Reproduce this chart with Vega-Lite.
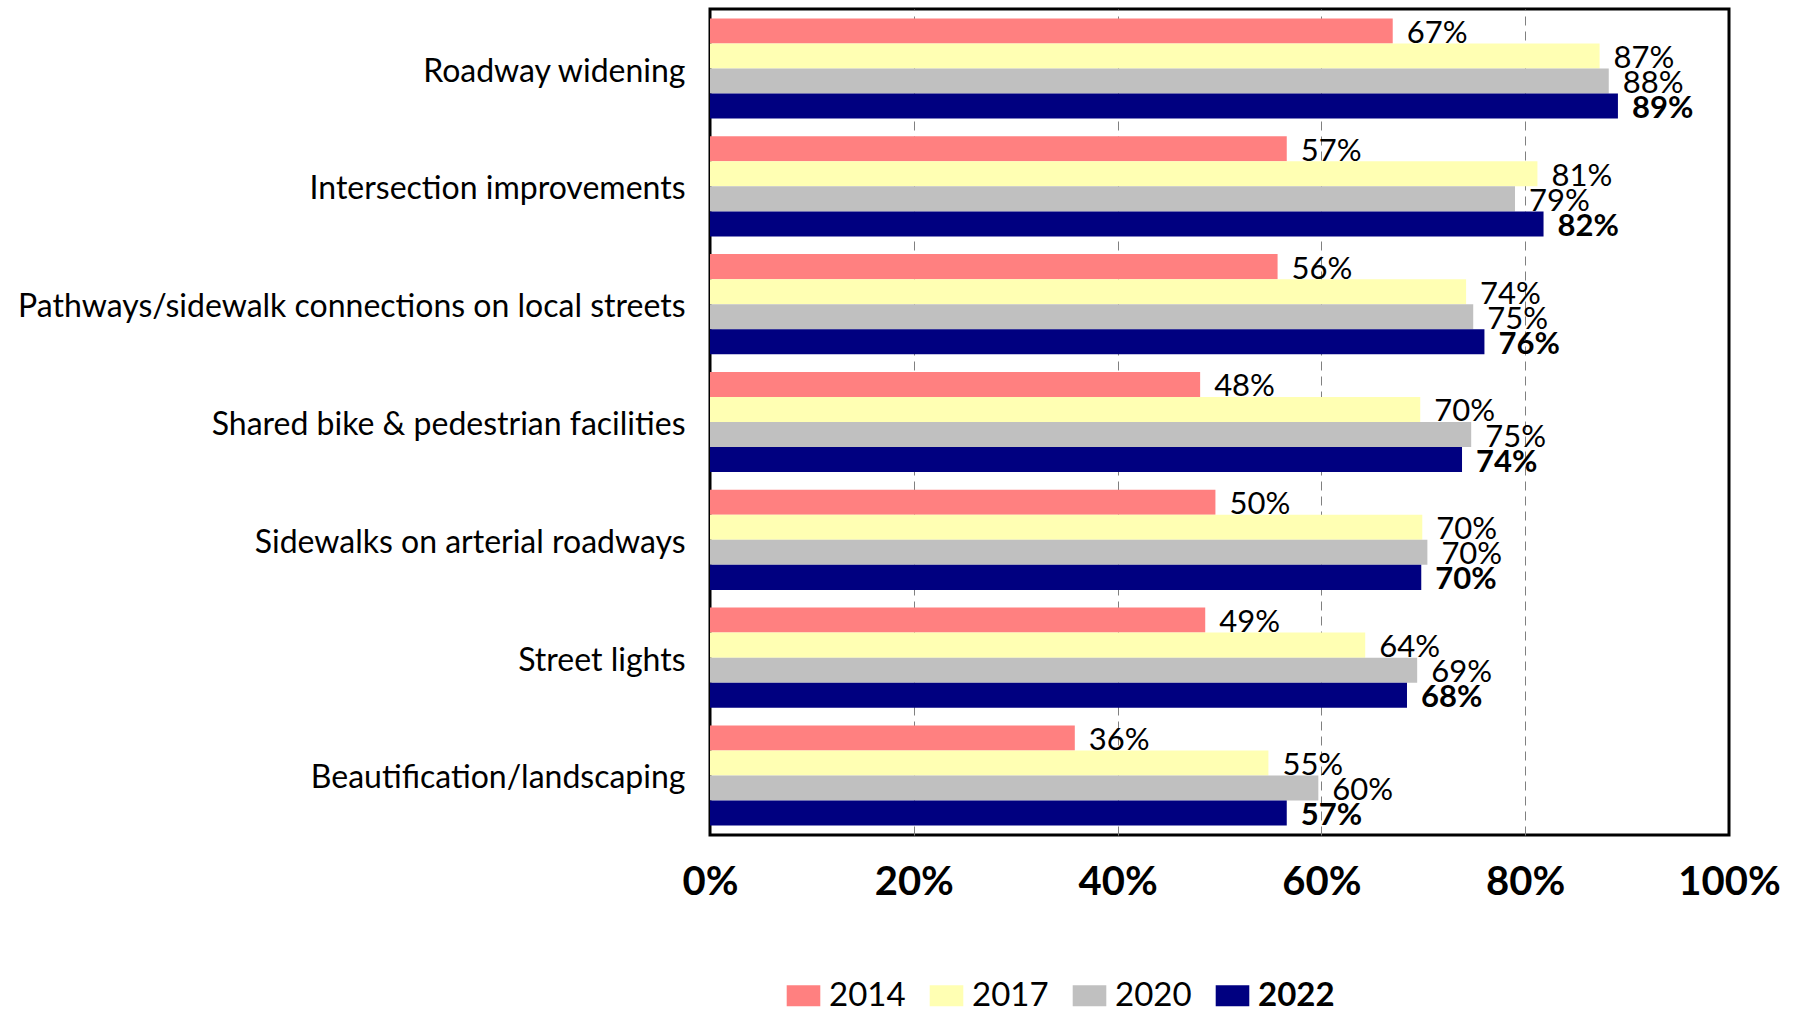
{
  "$schema": "https://vega.github.io/schema/vega-lite/v6.json",
  "width": 1019,
  "height": 826,
  "autosize": {"type": "none"},
  "padding": {"left": 710, "top": 9, "right": 65, "bottom": 178},
  "background": "white",
  "config": {
    "font": "Lato",
    "view": {"stroke": "black", "strokeWidth": 3}
  },
  "data": {
    "values": [
      {"item": "Roadway widening", "year": "2014", "v": 0.670},
      {"item": "Roadway widening", "year": "2017", "v": 0.873},
      {"item": "Roadway widening", "year": "2020", "v": 0.882},
      {"item": "Roadway widening", "year": "2022", "v": 0.891},
      {"item": "Intersection improvements", "year": "2014", "v": 0.566},
      {"item": "Intersection improvements", "year": "2017", "v": 0.812},
      {"item": "Intersection improvements", "year": "2020", "v": 0.790},
      {"item": "Intersection improvements", "year": "2022", "v": 0.818},
      {"item": "Pathways/sidewalk connections on local streets", "year": "2014", "v": 0.557},
      {"item": "Pathways/sidewalk connections on local streets", "year": "2017", "v": 0.742},
      {"item": "Pathways/sidewalk connections on local streets", "year": "2020", "v": 0.749},
      {"item": "Pathways/sidewalk connections on local streets", "year": "2022", "v": 0.760},
      {"item": "Shared bike & pedestrian facilities", "year": "2014", "v": 0.481},
      {"item": "Shared bike & pedestrian facilities", "year": "2017", "v": 0.697},
      {"item": "Shared bike & pedestrian facilities", "year": "2020", "v": 0.747},
      {"item": "Shared bike & pedestrian facilities", "year": "2022", "v": 0.738},
      {"item": "Sidewalks on arterial roadways", "year": "2014", "v": 0.496},
      {"item": "Sidewalks on arterial roadways", "year": "2017", "v": 0.699},
      {"item": "Sidewalks on arterial roadways", "year": "2020", "v": 0.704},
      {"item": "Sidewalks on arterial roadways", "year": "2022", "v": 0.698},
      {"item": "Street lights", "year": "2014", "v": 0.486},
      {"item": "Street lights", "year": "2017", "v": 0.643},
      {"item": "Street lights", "year": "2020", "v": 0.694},
      {"item": "Street lights", "year": "2022", "v": 0.684},
      {"item": "Beautification/landscaping", "year": "2014", "v": 0.358},
      {"item": "Beautification/landscaping", "year": "2017", "v": 0.548},
      {"item": "Beautification/landscaping", "year": "2020", "v": 0.597},
      {"item": "Beautification/landscaping", "year": "2022", "v": 0.566}
    ]
  },
  "encoding": {
    "y": {
      "field": "item",
      "type": "nominal",
      "sort": null,
      "scale": {"paddingInner": 0.15, "paddingOuter": 0.08},
      "axis": {
        "title": null,
        "ticks": false,
        "domain": false,
        "labelFontSize": 32,
        "labelPadding": 25,
        "labelOffset": 3,
        "labelColor": "black",
        "labelLimit": 900
      }
    },
    "yOffset": {"field": "year", "type": "nominal"},
    "x": {
      "field": "v",
      "type": "quantitative",
      "scale": {"domain": [0, 1]},
      "axis": {
        "format": ".0%",
        "values": [0, 0.2, 0.4, 0.6, 0.8, 1],
        "title": null,
        "labelFontSize": 40,
        "labelFontWeight": "bold",
        "labelPadding": 27,
        "labelFlush": false,
        "labelColor": "black",
        "ticks": false,
        "domain": false,
        "gridDash": [9, 6],
        "gridColor": "#808080",
        "gridWidth": 1,
        "gridOpacity": {"condition": {"test": "datum.value == 0 || datum.value == 1", "value": 0}, "value": 1}
      }
    }
  },
  "layer": [
    {
      "mark": {"type": "bar"},
      "encoding": {
        "color": {
          "field": "year",
          "type": "nominal",
          "scale": {
            "domain": ["2014", "2017", "2020", "2022"],
            "range": ["#FF8080", "#FFFFB3", "#C0C0C0", "#000080"]
          },
          "legend": {
            "title": null,
            "orient": "none",
            "direction": "horizontal",
            "legendX": 77,
            "legendY": 970,
            "labelFontSize": 33,
            "labelColor": "black",
            "symbolType": "M-1.6,-1H1.6V1H-1.6Z",
            "symbolSize": 441,
            "symbolStrokeWidth": 0,
            "symbolOpacity": 1,
            "labelOffset": 9,
            "columnPadding": 23,
            "encode": {
              "labels": {
                "update": {
                  "fontWeight": {"signal": "datum.label === '2022' ? 'bold' : 'normal'"}
                }
              }
            }
          }
        }
      }
    },
    {
      "transform": [{"filter": "datum.year != '2022'"}],
      "mark": {"type": "text", "align": "left", "baseline": "middle", "dx": 14, "dy": 3, "fontSize": 31, "color": "black"},
      "encoding": {"text": {"field": "v", "type": "quantitative", "format": ".0%"}}
    },
    {
      "transform": [{"filter": "datum.year == '2022'"}],
      "mark": {"type": "text", "align": "left", "baseline": "middle", "dx": 14, "dy": 3, "fontSize": 31, "fontWeight": "bold", "color": "black"},
      "encoding": {"text": {"field": "v", "type": "quantitative", "format": ".0%"}}
    }
  ]
}
